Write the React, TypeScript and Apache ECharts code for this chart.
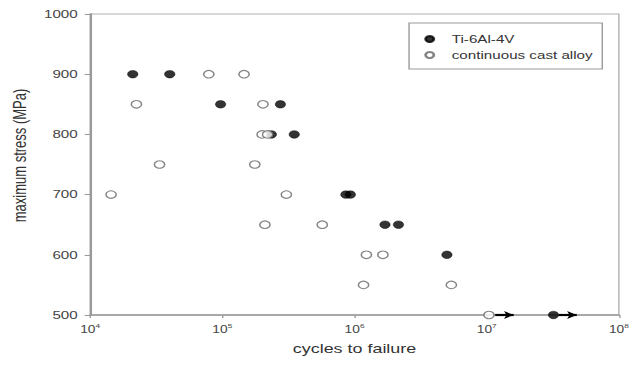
import React, { useEffect, useRef } from "react";
import * as echarts from "echarts";

// Ti-6Al-4V (cycles to failure, maximum stress in MPa)
const tiCycles = [2.1e4, 4.0e4, 9.7e4, 2.75e5, 2.35e5, 3.5e5, 8.6e5, 9.3e5, 1.7e6, 2.15e6, 5.0e6, 3.2e7];
const tiStress = [900, 900, 850, 850, 800, 800, 700, 700, 650, 650, 600, 500];

// continuous cast alloy
const castCycles = [1.44e4, 2.24e4, 3.35e4, 7.9e4, 1.46e5, 1.76e5, 2.0e5, 2.03e5, 2.2e5, 2.1e5, 3.05e5, 5.7e5, 1.17e6, 1.23e6, 1.64e6, 5.4e6, 1.04e7];
const castStress = [700, 850, 750, 900, 900, 750, 800, 850, 800, 650, 700, 650, 550, 600, 600, 550, 500];

// run-out arrows (from, to) at stress level
const runoutFrom = [1.16e7, 3.5e7];
const runoutTo = [1.6e7, 4.8e7];
const runoutStress = [500, 500];

const seriesNames = ["Ti-6Al-4V", "continuous cast alloy"];
const xMin = 1e4;
const xMax = 1e8;
const yMin = 500;
const yMax = 1000;
const yStep = 100;

const SX = 633 / 459;

export default function App() {
  const ref = useRef<HTMLDivElement>(null);
  useEffect(() => {
    if (!ref.current) return;
    const chart = echarts.init(ref.current, undefined, { renderer: "svg" });
    const font = "Liberation Sans, Arial, sans-serif";
    const tiData = tiCycles.map((c, i) => [c, tiStress[i]]);
    const castData = castCycles.map((c, i) => [c, castStress[i]]);
    const arrows = runoutFrom.map((f, i) => [
      { coord: [f, runoutStress[i]] },
      { coord: [runoutTo[i], runoutStress[i]] },
    ]);
    chart.setOption({
      animation: false,
      grid: {
        left: 65.3,
        right: 7.3,
        top: 14,
        bottom: 54,
        show: true,
        borderColor: "#b0b0b0",
        borderWidth: 1,
        backgroundColor: "transparent",
      },
      legend: {
        orient: "vertical",
        left: 296.6,
        top: 23,
        padding: [10, 7, 8, 11],
        itemWidth: 22,
        itemHeight: 6,
        itemGap: 4,
        borderColor: "#999",
        borderWidth: 1,
        borderRadius: 0,
        textStyle: { fontFamily: font, fontSize: 11, color: "#333", lineHeight: 12 },
        data: seriesNames,
      },
      xAxis: {
        type: "log",
        logBase: 10,
        min: xMin,
        max: xMax,
        name: "cycles to failure",
        nameLocation: "middle",
        nameGap: 27,
        nameTextStyle: { fontFamily: font, fontSize: 13, color: "#333" },
        axisLine: { lineStyle: { color: "#999", width: 1.5 } },
        axisTick: { show: true, inside: false, length: 3, lineStyle: { color: "#999" } },
        minorTick: { show: false },
        splitLine: { show: false },
        axisLabel: {
          margin: 8,
          fontFamily: font,
          fontSize: 10,
          color: "#444",
          lineHeight: 13,
          formatter: (v: number) => "10{s|" + Math.round(Math.log10(v)) + "}",
          rich: {
            s: { fontSize: 6, fontFamily: font, color: "#444", verticalAlign: "top", lineHeight: 13, padding: [0, 0, 6, 0] },
          },
        },
      },
      yAxis: {
        type: "value",
        min: yMin,
        max: yMax,
        interval: yStep,
        name: "maximum stress (MPa)",
        nameLocation: "middle",
        nameGap: 40,
        nameTextStyle: { fontFamily: font, fontSize: 13, color: "#333", padding: [0, 0, 0, 18] },
        axisLine: { show: true, lineStyle: { color: "#999", width: 1.5 } },
        axisTick: { show: true, inside: false, length: 4, lineStyle: { color: "#999" } },
        splitLine: { show: false },
        axisLabel: {
          margin: 9,
          fontFamily: font,
          fontSize: 11,
          color: "#444",
          formatter: (v: number) => String(v),
        },
      },
      series: [
        {
          name: seriesNames[0],
          type: "scatter",
          data: tiData,
          symbol: "circle",
          symbolSize: 7.5,
          clip: false,
          itemStyle: { color: "#000", borderColor: "#000", borderWidth: 0.5 },
          markLine: {
            silent: true,
            symbol: ["none", "arrow"],
            symbolSize: [6, 7],
            label: { show: false },
            lineStyle: { color: "#000", width: 2.2, type: "solid" },
            data: arrows,
          },
        },
        {
          name: seriesNames[1],
          type: "scatter",
          data: castData,
          symbol: "circle",
          symbolSize: 7.5,
          clip: false,
          itemStyle: { color: "#fff", borderColor: "#666", borderWidth: 1.1 },
        },
      ],
    });
    return () => chart.dispose();
  }, []);
  return (
    <div
      ref={ref}
      style={{
        position: "absolute",
        left: 0,
        top: 0,
        width: 459,
        height: 369,
        transform: `scaleX(${SX})`,
        transformOrigin: "0 0",
      }}
    />
  );
}
